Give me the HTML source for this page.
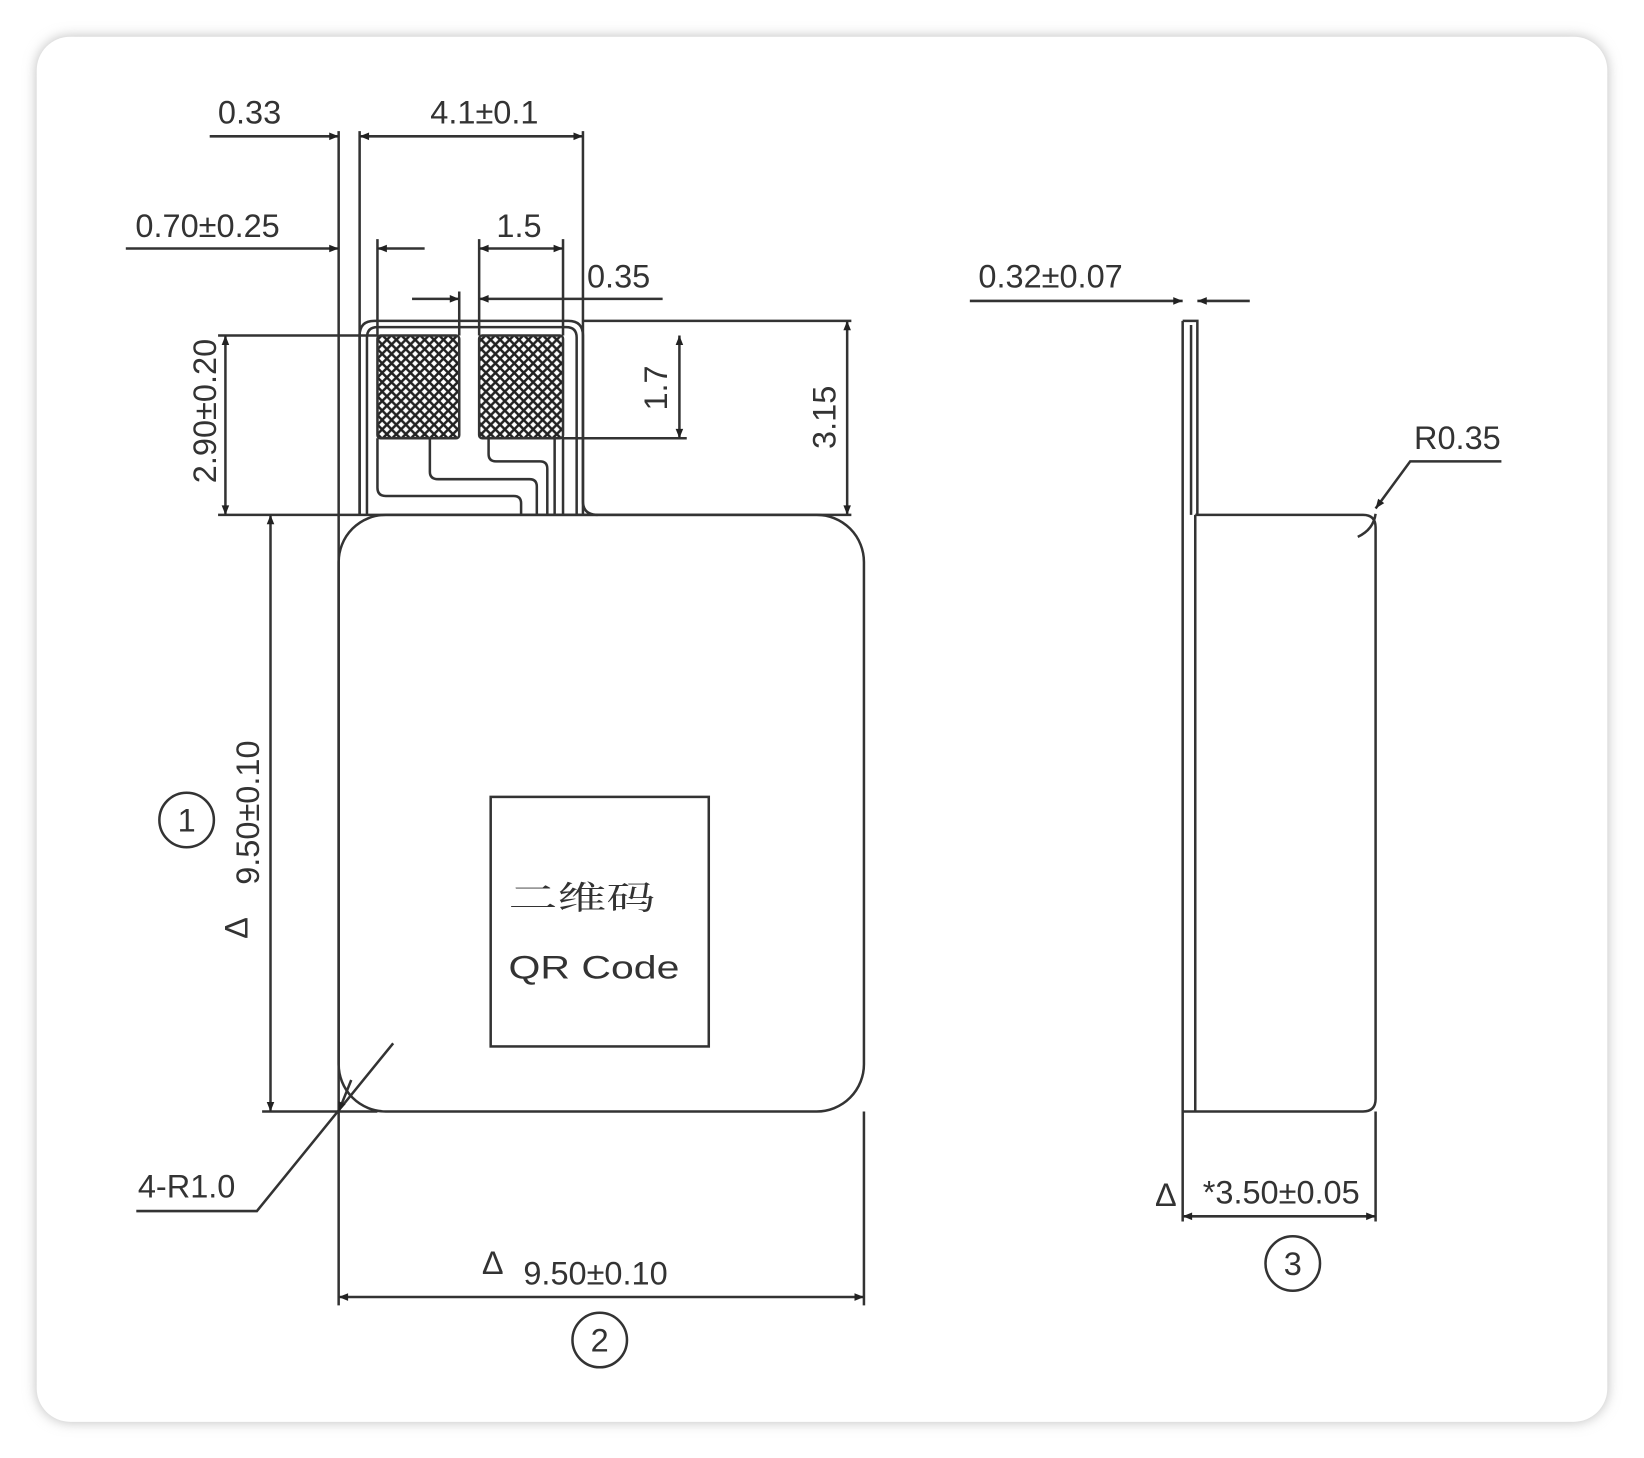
<!DOCTYPE html>
<html><head><meta charset="utf-8"><style>
html,body{margin:0;padding:0;background:#f4f4f4;}
svg{display:block;}
text{font-family:"Liberation Sans Narrow","Liberation Sans","Noto Sans CJK SC",sans-serif;fill:#333;font-size:31px;}
</style></head><body>
<svg width="1644" height="1458" viewBox="0 0 1568 1390.5" preserveAspectRatio="none" xmlns="http://www.w3.org/2000/svg">
<defs>
<filter id="sh" x="-5%" y="-5%" width="110%" height="110%"><feGaussianBlur stdDeviation="6"/></filter>
<pattern id="hatch" width="9" height="9" patternUnits="userSpaceOnUse">
<rect width="9" height="9" fill="#fff"/>
<path d="M0 0L9 9M9 0L0 9" stroke="#222" stroke-width="2.4"/>
</pattern>
<marker id="a" viewBox="0 0 10 10" refX="10" refY="5" markerWidth="20" markerHeight="9" orient="auto-start-reverse" markerUnits="userSpaceOnUse"><path d="M0 1L10 5L0 9z" fill="#222"/></marker>
</defs>
<rect x="0" y="0" width="1568" height="1390.5" fill="#fff"/>
<rect x="35" y="35" width="1498" height="1321" rx="32" fill="#bbb" filter="url(#sh)"/>
<rect x="35" y="35" width="1498" height="1321" rx="32" fill="#fff"/>
<g stroke="#333" stroke-width="2.4" fill="none">
<rect x="323" y="491" width="501" height="569" rx="45"/>
<path d="M343 491V320Q343 306 357 306H542Q556 306 556 320V478Q556 491 570 491"/>
<path d="M350 491V322Q350 312 360 312H540Q550 312 550 322V491"/>
<rect x="360" y="320" width="78" height="98" fill="url(#hatch)" rx="3"/>
<rect x="457" y="320" width="80" height="98" fill="url(#hatch)" rx="3"/>
<path d="M360 418V465Q360 473 368 473H490Q497 473 497 480V491"/>
<path d="M410 418V450Q410 457 418 457H505Q512 457 512 464V491"/>
<path d="M466 418V433Q466 440 473 440H515Q522 440 522 447V491"/>
<path d="M537 418V491M529 418V491"/>
<path d="M323 125V1245M343 125V491M556 125V491M824 1060V1245"/>
<path d="M360 228V320M457 228V320M537 228V320M438 278V320"/>
<path d="M556 306H812M208 320H360M537 418H655M208 491H812M250 1060H360"/>
<path d="M200 130H323" marker-end="url(#a)"/>
<path d="M343 130H556" marker-start="url(#a)" marker-end="url(#a)"/>
<path d="M120 237H323" marker-end="url(#a)"/>
<path d="M405 237H360" marker-end="url(#a)"/>
<path d="M457 237H537" marker-start="url(#a)" marker-end="url(#a)"/>
<path d="M393 285H438" marker-end="url(#a)"/>
<path d="M632 285H457" marker-end="url(#a)"/>
<path d="M215 320V491" marker-start="url(#a)" marker-end="url(#a)"/>
<path d="M648 320V418" marker-start="url(#a)" marker-end="url(#a)"/>
<path d="M808 306V491" marker-start="url(#a)" marker-end="url(#a)"/>
<path d="M258 491V1060" marker-start="url(#a)" marker-end="url(#a)"/>
<path d="M323 1237H824" marker-start="url(#a)" marker-end="url(#a)"/>
<path d="M375 995L245 1155H130"/>
<path d="M335 1030L323 1060" marker-end="url(#a)"/>
<rect x="468" y="760" width="208" height="238"/>
<circle cx="178" cy="782" r="26"/>
<circle cx="572" cy="1278" r="26"/>
<circle cx="1233" cy="1205" r="26"/>
<path d="M1128 306H1142V491M1128 306V1060M1136 310V491M1140 491V1060"/>
<path d="M1128 1060H1300Q1312 1060 1312 1048V503Q1312 491 1300 491H1140"/>
<path d="M925 287H1128" marker-end="url(#a)"/>
<path d="M1192 287H1142" marker-end="url(#a)"/>
<path d="M1432 440H1345L1312 485" marker-end="url(#a)"/>
<path d="M1312 490Q1310 505 1295 512"/>
<path d="M1128 1060V1165M1312 1060V1165"/>
<path d="M1128 1160H1312" marker-start="url(#a)" marker-end="url(#a)"/>
</g>
<g>
<text x="238" y="118" text-anchor="middle">0.33</text>
<text x="462" y="118" text-anchor="middle">4.1±0.1</text>
<text x="198" y="226" text-anchor="middle">0.70±0.25</text>
<text x="495" y="226" text-anchor="middle">1.5</text>
<text x="590" y="274" text-anchor="middle">0.35</text>
<text transform="translate(206,392) rotate(-90)" text-anchor="middle">2.90±0.20</text>
<text transform="translate(636,370) rotate(-90)" text-anchor="middle">1.7</text>
<text transform="translate(797,398) rotate(-90)" text-anchor="middle">3.15</text>
<text transform="translate(247,775) rotate(-90)" text-anchor="middle">9.50±0.10</text>
<text transform="translate(236,885) rotate(-90)" text-anchor="middle">Δ</text>
<text x="178" y="793" text-anchor="middle">1</text>
<text x="572" y="1289" text-anchor="middle">2</text>
<text x="1233" y="1216" text-anchor="middle">3</text>
<text x="178" y="1142" text-anchor="middle">4-R1.0</text>
<text x="470" y="1215" text-anchor="middle">Δ</text>
<text x="568" y="1225" text-anchor="middle">9.50±0.10</text>
<text x="485" y="867" font-size="52" textLength="140" lengthAdjust="spacingAndGlyphs" style="font-family:'Noto Serif CJK SC','Noto Sans CJK SC',serif">二维码</text>
<text x="485" y="933" font-size="46" textLength="163" lengthAdjust="spacingAndGlyphs">QR Code</text>
<text x="1002" y="274" text-anchor="middle">0.32±0.07</text>
<text x="1390" y="428" text-anchor="middle">R0.35</text>
<text x="1112" y="1150" text-anchor="middle">Δ</text>
<text x="1222" y="1148" text-anchor="middle">*3.50±0.05</text>
</g>
</svg>
</body></html>
